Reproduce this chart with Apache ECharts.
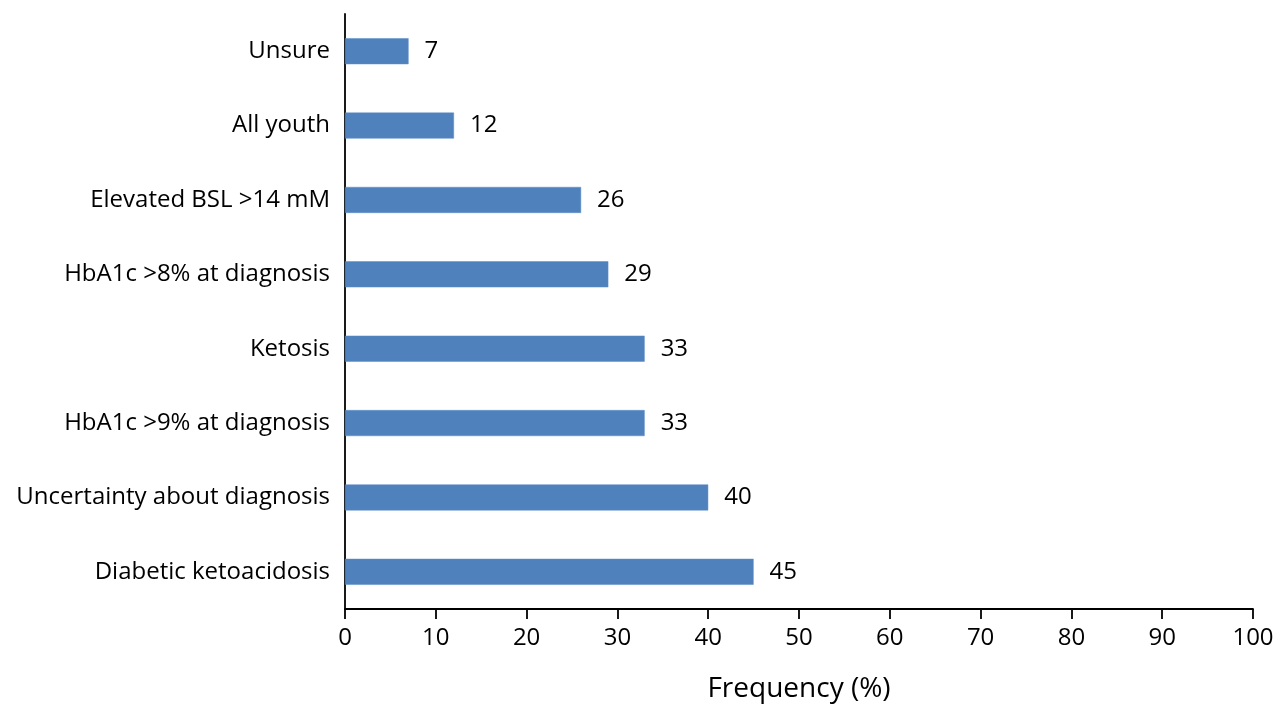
<!DOCTYPE html>
<html>
<head>
<meta charset="utf-8">
<script src="https://cdn.jsdelivr.net/npm/echarts@6/dist/echarts.min.js"></script>
<style>
  html, body { margin: 0; padding: 0; background: #ffffff; }
  #chart { width: 1277px; height: 705px; }
</style>
</head>
<body>
<div id="chart"></div>
<script>
// Reasons, listed bottom to top as drawn on the category axis
const categories = [
  'Diabetic ketoacidosis',
  'Uncertainty about diagnosis',
  'HbA1c >9% at diagnosis',
  'Ketosis',
  'HbA1c >8% at diagnosis',
  'Elevated BSL >14 mM',
  'All youth',
  'Unsure'
];
const frequency = [45, 40, 33, 33, 29, 26, 12, 7];
const xTicks = [0, 10, 20, 30, 40, 50, 60, 70, 80, 90, 100];

const FONT = '"Open Sans", "Liberation Sans", sans-serif';
const chart = echarts.init(document.getElementById('chart'), null, { renderer: 'canvas' });

chart.setOption({
  animation: false,
  backgroundColor: '#ffffff',
  grid: {
    left: 345, right: 24, top: 14, bottom: 96,
    containLabel: false,
    outerBoundsMode: 'none'
  },
  xAxis: {
    type: 'value',
    min: xTicks[0],
    max: xTicks[xTicks.length - 1],
    interval: 10,
    name: 'Frequency (%)',
    nameLocation: 'middle',
    nameGap: 66,
    nameTextStyle: { fontFamily: FONT, fontSize: 28, color: '#000' },
    axisLine: { show: true, lineStyle: { color: '#000', width: 1.8 } },
    axisTick: { show: true, inside: false, length: 10, lineStyle: { color: '#000', width: 1.8 } },
    axisLabel: { fontFamily: FONT, fontSize: 24, color: '#000', margin: 17 },
    splitLine: { show: false }
  },
  yAxis: {
    type: 'category',
    data: categories,
    axisLine: { show: true, lineStyle: { color: '#000', width: 1.8 } },
    axisTick: { show: false },
    axisLabel: { fontFamily: FONT, fontSize: 24, color: '#000', margin: 15 },
    splitLine: { show: false }
  },
  series: [{
    type: 'bar',
    data: frequency,
    barWidth: 26,
    itemStyle: { color: '#4F81BD', borderColor: '#5B8CC6', borderWidth: 0.5 },
    label: {
      show: true,
      position: 'right',
      distance: 16,
      fontFamily: FONT,
      fontSize: 24,
      color: '#000'
    }
  }]
});
</script>
</body>
</html>
